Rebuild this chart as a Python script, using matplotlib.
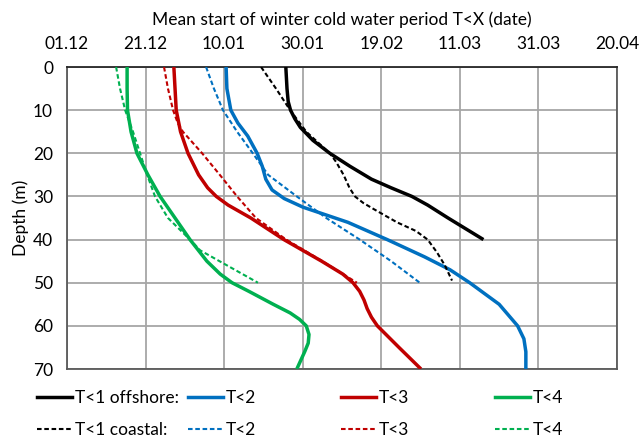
import matplotlib.pyplot as plt
from matplotlib.lines import Line2D

plt.rcParams['font.family'] = ['Lato', 'DejaVu Sans']

# days counted from 01.12
tick_days = [0, 20, 40, 60, 80, 100, 120, 140]
tick_labels = ["01.12", "21.12", "10.01", "30.01", "19.02", "11.03", "31.03", "20.04"]

# offshore (solid)
off1_depth = [0, 5, 8, 10, 12, 14, 17, 20, 23, 26, 28, 30, 32, 35, 40]
off1_days = [55.7, 56.0, 56.3, 56.9, 58.0, 59.4, 62.6, 66.9, 72.0, 77.5, 82.5, 87.8, 91.8, 97.0, 106.0]

off2_depth = [0, 5, 10, 13, 16, 20, 23, 26, 28.5, 30.5, 32.5, 36, 40, 44, 47, 50, 55, 60, 63, 66, 70]
off2_days = [40.5, 40.7, 41.7, 43.5, 46.0, 48.4, 49.7, 50.6, 52.2, 55.3, 60.1, 71.5, 81.5, 91.0,
             97.5, 102.5, 110.0, 114.7, 116.3, 116.8, 116.8]

off3_depth = [0, 5, 10, 15, 20, 25, 28, 30, 32, 35, 40, 45, 48, 50, 52, 54, 56, 58, 60, 65, 70]
off3_days = [27.2, 27.5, 27.8, 28.9, 30.8, 33.5, 35.8, 38.0, 41.0, 46.8, 55.2, 64.8, 70.2, 72.8,
             74.5, 75.6, 76.4, 77.5, 79.0, 84.5, 90.1]

off4_depth = [0, 5, 10, 15, 20, 25, 30, 35, 40, 45, 48, 50, 52, 55, 57, 58.5, 60, 62, 64, 66, 68, 70]
off4_days = [15.3, 15.3, 15.4, 16.3, 17.8, 20.6, 23.7, 27.5, 31.3, 35.6, 39.0, 42.0, 46.3, 52.5,
             56.8, 59.2, 60.9, 61.6, 61.4, 60.5, 59.5, 58.5]

# coastal (dashed)
coa1_depth = [0, 5, 10, 15, 20, 22, 25, 28, 30, 31.5, 33, 36, 38, 40, 43, 46, 49.5]
coa1_days = [49.4, 53.2, 56.8, 60.9, 66.9, 68.5, 70.4, 71.9, 73.3, 75.4, 78.2, 84.0, 88.8, 91.8,
             94.2, 96.2, 98.0]

coa2_depth = [0, 5, 10, 15, 20, 25, 30, 35, 40, 45, 50]
coa2_days = [35.4, 37.4, 39.7, 43.3, 47.3, 51.2, 58.5, 66.0, 74.5, 82.5, 89.8]

coa3_depth = [0, 5, 10, 13, 15, 20, 25, 30, 35, 40, 45, 50]
coa3_days = [24.7, 25.7, 27.0, 28.2, 29.5, 34.4, 38.9, 43.3, 48.1, 55.8, 65.0, 73.8]

coa4_depth = [0, 5, 10, 15, 20, 25, 30, 35, 40, 42.5, 45, 50]
coa4_days = [12.5, 13.5, 14.8, 16.8, 18.6, 20.4, 22.4, 25.7, 31.3, 33.9, 38.8, 48.6]

colors = ["black", "#0070C0", "#C00000", "#00B050"]
names = ["T<2", "T<3", "T<4"]

offshore = [(off1_days, off1_depth), (off2_days, off2_depth), (off3_days, off3_depth), (off4_days, off4_depth)]
coastal = [(coa1_days, coa1_depth), (coa2_days, coa2_depth), (coa3_days, coa3_depth), (coa4_days, coa4_depth)]

fs = 12.5
fig = plt.figure(figsize=(6.42, 4.37), dpi=100)
ax = fig.add_axes([67 / 642, 1 - 369 / 437, 550 / 642, 302 / 437])

dash = (0, (2.2, 1.3))
for (x, y), c in zip(offshore, colors):
    ax.plot(x, y, color=c, lw=2.5, solid_capstyle='butt', solid_joinstyle='round', zorder=3)
for (x, y), c in zip(coastal, colors):
    ax.plot(x, y, color=c, lw=1.5, ls=dash, zorder=3)

ax.set_xlim(0, 140)
ax.set_ylim(70, 0)
ax.xaxis.tick_top()
ax.xaxis.set_label_position('top')
ax.set_xticks(tick_days)
ax.set_xticklabels(tick_labels)
ax.set_yticks(range(0, 71, 10))
ax.tick_params(length=0, labelsize=fs, pad=11)
ax.tick_params(axis='y', pad=10)
ax.grid(True, color='#A6A6A6', lw=1.3)
ax.set_axisbelow(True)
for s in ['left', 'bottom', 'right']:
    ax.spines[s].set_color('#595959')
    ax.spines[s].set_linewidth(1.3)
ax.spines['top'].set_color('#262626')
ax.spines['top'].set_linewidth(1.3)

ax.set_xlabel("Mean start of winter cold water period T<X (date)", fontsize=fs, labelpad=8)
ax.set_ylabel("Depth (m)", fontsize=fs, labelpad=3)

# legend: four equal columns, two rows
col_x = [37, 188, 341, 495]
first = ["T<1 offshore:", "T<1 coastal:"]
for i, c in enumerate(colors):
    h = [Line2D([], [], color=c, lw=2.5), Line2D([], [], color=c, lw=1.5, ls=dash)]
    lab = first if i == 0 else [names[i - 1], names[i - 1]]
    fig.legend(h, lab, loc='upper left', bbox_to_anchor=(col_x[i] / 642, 1 - 390 / 437),
               frameon=False, fontsize=fs, handlelength=2.0, handletextpad=0.2,
               borderpad=0, borderaxespad=0, labelspacing=0.95)

fig.savefig("out.png", dpi=100)
